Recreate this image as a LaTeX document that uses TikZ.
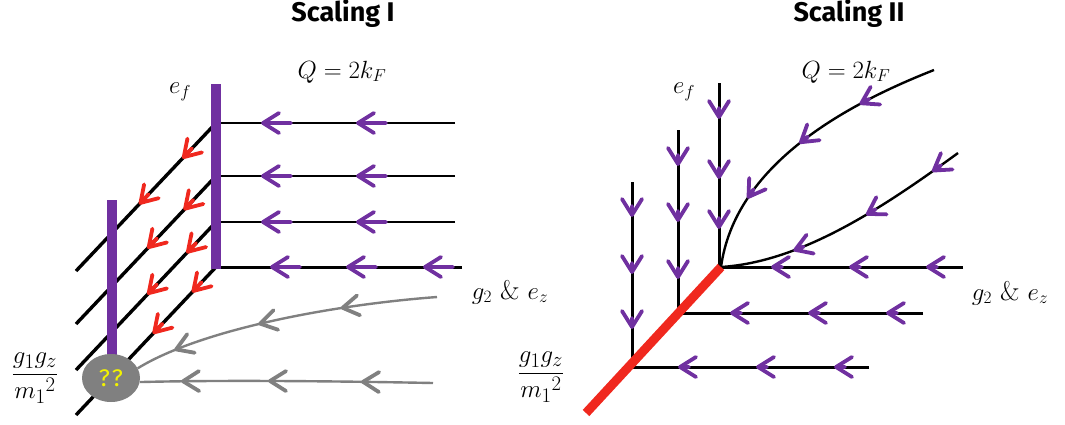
\documentclass[tikz,border=0pt]{standalone}
\usepackage{amsmath}
\usepackage{fontspec}
\usepackage{tikz}
\usetikzlibrary{shapes.geometric,decorations.markings}
\newfontfamily\headfont{Fira Sans}
\definecolor{vio}{HTML}{7030A0}
\definecolor{rd}{HTML}{F0281E}
\definecolor{gr}{HTML}{808080}
\definecolor{qq}{HTML}{F2F200}

\tikzset{
  chev/.style n args={3}{postaction={decorate,decoration={markings,
    mark=at position #1 with {\draw[#2,line width=3.8pt,line cap=round,line join=round]
      (-16pt,10pt) -- (0,0) -- (-16pt,-10pt) (0,0) -- (-#3,0);}}}},
  parr/.style={chev={#1}{vio}{28pt}},
  rarr/.style={chev={#1}{rd}{12pt}},
  garr/.style={chev={#1}{gr}{0pt}},
  narr/.style={chev={#1}{vio}{9pt}},
}

\begin{document}
\begin{tikzpicture}[x=1pt,y=-1pt,
  axis/.style={black,line width=2pt},
  thick axis/.style={black,line width=3pt},
  diag/.style={black,line width=3.4pt},
  gline/.style={gr,line width=2.4pt},
  vbar/.style={vio,line width=10pt},
  rbar/.style={rd,line width=9pt},
  lab/.style={font=\fontsize{27}{32}\selectfont,inner sep=0pt},
  frac/.style={font=\fontsize{30}{36}\selectfont,inner sep=0pt},
  head/.style={font=\headfont\bfseries\fontsize{27}{32}\selectfont,inner sep=0pt}]
\useasboundingbox (0,0) rectangle (1065,424);

% Scaling I
\coordinate (oA) at (216,267);
\foreach \y/\a/\b in {123/47pt/110pt,176/45pt/98pt,222/41pt/98pt,267/33pt/90pt}
  \draw[diag,rarr/.list={\a,\b}] (216,\y) -- ++(-140,148);
\foreach \y in {123,176,222}
  \draw[axis,parr/.list={97pt,192pt}] (455,\y) -- (216,\y);
\draw[thick axis,parr/.list={37pt,114pt,190pt}] (462,267) -- (oA);
\draw[vbar] (216,84) -- (216,269);
\draw[vbar] (112,200) -- (112,370);
\node (fp) at (111,378) [ellipse,fill=gr,minimum width=58pt,minimum height=48pt,inner sep=0pt,
  text=qq,font=\headfont\fontsize{24}{28}\selectfont] {?\kern2pt?};
\draw[gline,garr/.list={95pt,179pt,267pt}] (437,297) .. controls (330,305) and (200,330) .. (fp.20);
\draw[gline,garr/.list={70pt,163pt,250pt}] (433,383) .. controls (330,381) and (220,380) .. (fp.-8);

\node (tA) at (343,14) [head] {Scaling I};
\node (qA) at (342,72) [lab] {$Q=2k_F$};
\node (efA) at (180,92) [lab] {$e_f$};
\node (gA) at (510,292) [lab] {$g_2$ \& $e_z$};
\node (fA) at (35,378) [frac] {$\dfrac{g_1g_z}{{m_1}^2}$};

% Scaling II
\coordinate (oB) at (721,267);
\coordinate (mB) at (678,313);
\coordinate (lB) at (632,367);
\draw[thick axis,narr/.list={34pt,94pt,144pt}] (719,83) -- (719,267);
\draw[thick axis,narr/.list={34pt,90pt,147pt}] (678,130) -- (mB);
\draw[thick axis,narr/.list={33pt,90pt,145pt}] (632,182) -- (lB);
\draw[thick axis,narr/.list={35pt,112pt,190pt}] (963,267) -- (oB);
\draw[thick axis,narr/.list={35pt,113pt,191pt}] (923,313) -- (mB);
\draw[thick axis,narr/.list={33pt,111pt,189pt}] (869,367) -- (lB);
\draw[axis,line width=2.4pt,narr/.list={80pt,152pt,228pt}] (934,70) .. controls (845,105) and (735,165) .. (oB);
\draw[axis,line width=2.4pt,narr/.list={30pt,109pt,190pt}] (958,153) .. controls (880,210) and (800,262) .. (oB);
\draw[rbar] (oB) -- (586,413);

\node (tB) at (849,14) [head] {Scaling II};
\node (qB) at (846,72) [lab] {$Q=2k_F$};
\node (efB) at (684,92) [lab] {$e_f$};
\node (gB) at (1010,293) [lab] {$g_2$ \& $e_z$};
\node (fB) at (541,377) [frac] {$\dfrac{g_1g_z}{{m_1}^2}$};
\end{tikzpicture}
\end{document}
